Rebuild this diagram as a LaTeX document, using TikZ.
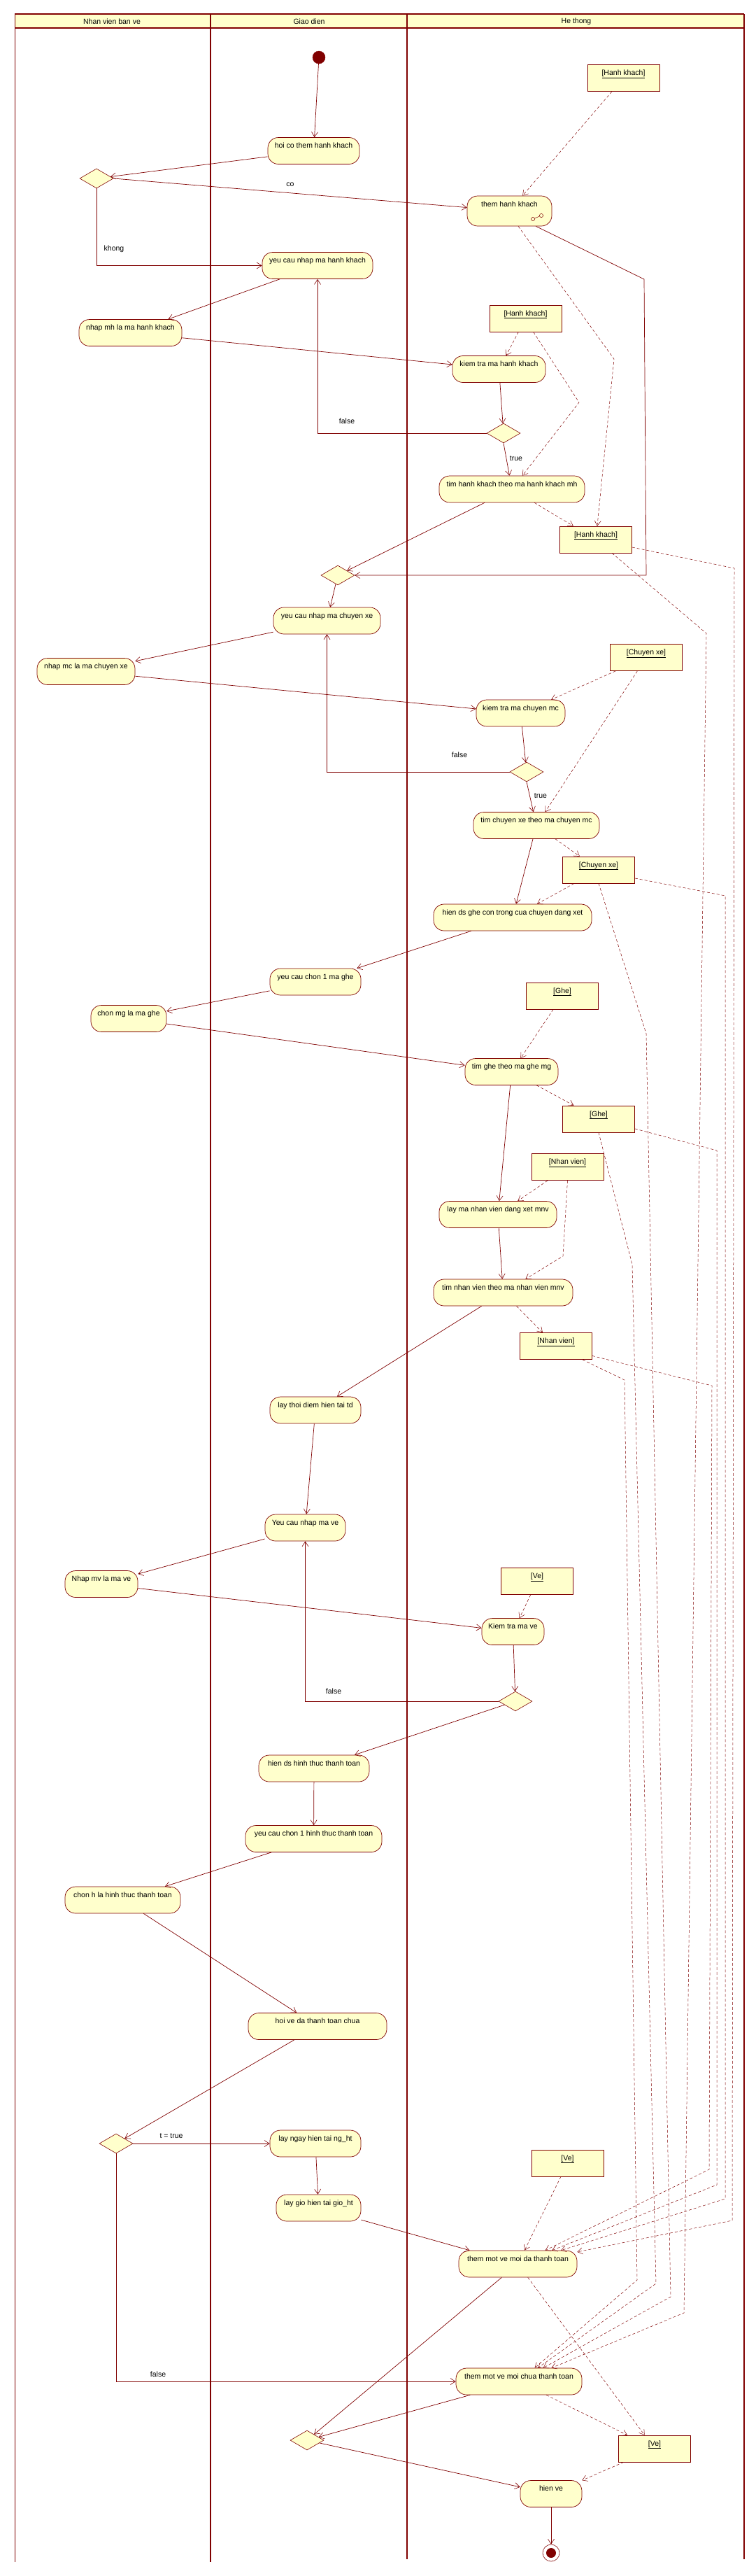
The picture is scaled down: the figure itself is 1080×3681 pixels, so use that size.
\documentclass[tikz,border=0pt]{standalone}
\usepackage{fontspec}
\setmainfont{Liberation Sans}
\usetikzlibrary{shapes.geometric,arrows.meta}
\definecolor{lc}{RGB}{128,0,0}
\definecolor{fc}{RGB}{255,255,204}
\begin{document}
\begin{tikzpicture}[x=1pt,y=-1pt,
  every node/.style={font=\fontsize{10.5}{12}\selectfont},
  act/.style={draw=lc, fill=fc, rectangle, rounded corners=15pt, minimum height=38pt, inner xsep=2pt, inner ysep=0pt, text height=15pt, text depth=23pt, line width=0.7pt},
  obj/.style={draw=lc, fill=fc, rectangle, minimum width=103pt, minimum height=38pt, inner xsep=2pt, inner ysep=0pt, text height=15pt, text depth=23pt, line width=0.7pt},
  dec/.style={draw=lc, fill=fc, diamond, minimum width=48pt, minimum height=28pt, inner sep=0pt, line width=0.6pt},
  flow/.style={draw=lc, line width=0.7pt, -{Straight Barb[length=7pt,width=9pt,line width=0.6pt]}},
  dep/.style={draw=lc, line width=0.5pt, dash pattern=on 4pt off 3pt, -{Straight Barb[length=7pt,width=9pt,line width=0.5pt]}},
  lbl/.style={text=black, inner sep=0pt},
  lane/.style={draw=lc, line width=1.6pt},
]
\useasboundingbox (0,0) rectangle (1080,3681);
\fill[white] (0,0) rectangle (1080,3681);

% swimlanes
\fill[fc] (21,20) rectangle (1064,40);
\draw[lane] (21,20) -- (1064,20);
\draw[lane] (21,40) -- (1064,40);
\draw[draw=lc, line width=0.9pt] (21,20) -- (21,3661);
\draw[lane] (301,20) -- (301,3661);
\draw[lane] (582,20) -- (582,3657);
\draw[lane] (1064,20) -- (1064,3657);
\node[lbl] (h1) at (160,31) {Nhan vien ban ve};
\node[lbl] (h2) at (442,31) {Giao dien};
\node[lbl] (h3) at (824,31) {He thong};

% start / end
\node[circle, fill=lc, draw=lc, minimum size=18pt, inner sep=0pt] (start) at (456,82) {};
\node[circle, draw=lc, fill=white, minimum size=24pt, inner sep=0pt, line width=0.6pt] (endn) at (788,3648) {};
\fill[lc] (endn.center) circle (7pt);

% activities
\node[act, minimum width=131pt] (a1) at (448.5,215.5) {hoi co them hanh khach};
\node[act, minimum width=121pt, minimum height=43pt, text depth=28pt] (a2) at (728.5,301.5) {them hanh khach};
\node[act, minimum width=158pt] (a3) at (454,379.5) {yeu cau nhap ma hanh khach};
\node[act, minimum width=147pt] (a4) at (186.5,475.5) {nhap mh la ma hanh khach};
\node[act, minimum width=133pt] (a5) at (713.5,527.5) {kiem tra ma hanh khach};
\node[act, minimum width=208pt] (a6) at (732,699) {tim hanh khach theo ma hanh khach mh};
\node[act, minimum width=153pt] (a7) at (467.5,887) {yeu cau nhap ma chuyen xe};
\node[act, minimum width=140pt] (a8) at (123,959.5) {nhap mc la ma chuyen xe};
\node[act, minimum width=127pt] (a9) at (744.5,1019) {kiem tra ma chuyen mc};
\node[act, minimum width=180pt] (a10) at (767,1179.5) {tim chuyen xe theo ma chuyen mc};
\node[act, minimum width=226pt] (a11) at (733,1311) {hien ds ghe con trong cua chuyen dang xet};
\node[act, minimum width=130pt] (a12) at (451,1403) {yeu cau chon 1 ma ghe};
\node[act, minimum width=108pt] (a13) at (184,1455.5) {chon mg la ma ghe};
\node[act, minimum width=133pt] (a14) at (731.5,1531.5) {tim ghe theo ma ghe mg};
\node[act, minimum width=168pt] (a15) at (712,1735.5) {lay ma nhan vien dang xet mnv};
\node[act, minimum width=199pt] (a16) at (719.5,1847) {tim nhan vien theo ma nhan vien mnv};
\node[act, minimum width=130pt] (a17) at (451,2015) {lay thoi diem hien tai td};
\node[act, minimum width=115pt] (a18) at (436.5,2183) {Yeu cau nhap ma ve};
\node[act, minimum width=104pt] (a19) at (145,2263.5) {Nhap mv la ma ve};
\node[act, minimum width=89pt] (a20) at (733.5,2331.5) {Kiem tra ma ve};
\node[act, minimum width=158pt] (a21) at (449,2527) {hien ds hinh thuc thanh toan};
\node[act, minimum width=195pt] (a22) at (448.5,2627.5) {yeu cau chon 1 hinh thuc thanh toan};
\node[act, minimum width=165pt] (a23) at (175.5,2715) {chon h la hinh thuc thanh toan};
\node[act, minimum width=198pt] (a24) at (454,2895.5) {hoi ve da thanh toan chua};
\node[act, minimum width=130pt] (a25) at (451,3063) {lay ngay hien tai ng\_ht};
\node[act, minimum width=121pt] (a26) at (455.5,3155) {lay gio hien tai gio\_ht};
\node[act, minimum width=169pt] (a27) at (740.5,3235) {them mot ve moi da thanh toan};
\node[act, minimum width=180pt] (a28) at (742,3403) {them mot ve moi chua thanh toan};
\node[act, minimum width=88pt] (a29) at (788,3563.5) {hien ve};

% subactivity icon
\draw[lc, line width=0.5pt] (762,313) circle (2.6pt);
\draw[lc, line width=0.5pt] (774,308) circle (2.6pt);
\draw[lc, line width=0.5pt] (764.5,312) -- (771.5,309);

% objects
\node[obj] (o1) at (891.5,111.5) {\underline{[Hanh khach]}};
\node[obj] (o2) at (751.5,455) {\underline{[Hanh khach]}};
\node[obj] (o3) at (852,771) {\underline{[Hanh khach]}};
\node[obj] (o4) at (924,939.5) {\underline{[Chuyen xe]}};
\node[obj] (o5) at (856,1243) {\underline{[Chuyen xe]}};
\node[obj] (o6) at (804,1423) {\underline{[Ghe]}};
\node[obj] (o7) at (856,1599) {\underline{[Ghe]}};
\node[obj] (o8) at (811.5,1667.5) {\underline{[Nhan vien]}};
\node[obj] (o9) at (795,1923.5) {\underline{[Nhan vien]}};
\node[obj] (o10) at (768,2259.5) {\underline{[Ve]}};
\node[obj] (o11) at (811.5,3091) {\underline{[Ve]}};
\node[obj] (o12) at (936,3499) {\underline{[Ve]}};

% decisions
\node[dec] (d1) at (138,255) {};
\node[dec] (d2) at (483,822) {};
\node[dec] (d3) at (720,619) {};
\node[dec] (d4) at (753,1103) {};
\node[dec] (d5) at (737,2431) {};
\node[dec] (d6) at (166,3063) {};
\node[dec] (d7) at (439,3487) {};

% bend coordinates
\coordinate (w1) at (828,575);
\coordinate (w2) at (878,513);
\coordinate (w3) at (921,399);
\coordinate (w4) at (924,822);
\coordinate (w5) at (805,1795);
\coordinate (hr1) at (1050,812); \coordinate (hr2) at (1047,3173);
\coordinate (hb1) at (1010,905); \coordinate (hb2) at (978,3305);
\coordinate (cr1) at (1037,1280); \coordinate (cr2) at (1037,3142);
\coordinate (cb1) at (924,1477); \coordinate (cb2) at (959,3282);
\coordinate (gr1) at (1025,1644); \coordinate (gr2) at (1025,3122);
\coordinate (gb1) at (904,1807); \coordinate (gb2) at (938,3263);
\coordinate (nr1) at (1018,1980); \coordinate (nr2) at (1014,3100);
\coordinate (nb1) at (893,1972); \coordinate (nb2) at (911,3258);

% flows
\draw[flow] (start) -- (a1);
\draw[flow] (a1) -- (d1);
\draw[flow] (d1.east) -- (a2);
\draw[dep] (o1) -- (a2);
\draw[flow] (d1.south) |- (a3.west);
\draw[flow] (a3) -- (a4);
\draw[flow] (a4) -- (a5);
\draw[dep] (o2) -- (a5);
\draw[dep] (o2.-60) -- (w1) -- (a6);
\draw[flow] (a5) -- (d3);
\draw[flow] (d3.west) -| (a3.south);
\draw[flow] (d3.south) -- (a6);
\draw[dep] (a2.-60) -- (w2) -- (o3);
\draw[flow] (a2.-30) -- (w3) -- (w4) -- (d2.east);
\draw[dep] (a6) -- (o3);
\draw[flow] (a6) -- (d2);
\draw[flow] (d2) -- (a7);
\draw[flow] (a7) -- (a8);
\draw[flow] (a8) -- (a9);
\draw[dep] (o4) -- (a9);
\draw[dep] (o4) -- (a10);
\draw[flow] (a9) -- (d4);
\draw[flow] (d4.west) -| (a7.south);
\draw[flow] (d4.south) -- (a10);
\draw[flow] (a10) -- (a11);
\draw[dep] (a10) -- (o5);
\draw[dep] (o5) -- (a11);
\draw[flow] (a11) -- (a12);
\draw[flow] (a12) -- (a13);
\draw[flow] (a13) -- (a14);
\draw[dep] (o6) -- (a14);
\draw[dep] (a14) -- (o7);
\draw[flow] (a14) -- (a15);
\draw[dep] (o8) -- (a15);
\draw[dep] (o8.south) -- (w5) -- (a16);
\draw[flow] (a15) -- (a16);
\draw[dep] (a16) -- (o9);
\draw[flow] (a16) -- (a17);
\draw[flow] (a17) -- (a18);
\draw[flow] (a18) -- (a19);
\draw[flow] (a19) -- (a20);
\draw[dep] (o10) -- (a20);
\draw[flow] (a20) -- (d5);
\draw[flow] (d5.west) -| (a18.south);
\draw[flow] (d5) -- (a21);
\draw[flow] (a21) -- (a22);
\draw[flow] (a22) -- (a23);
\draw[flow] (a23) -- (a24);
\draw[flow] (a24) -- (d6);
\draw[flow] (d6.east) -- (a25.west);
\draw[flow] (a25) -- (a26);
\draw[flow] (a26) -- (a27);
\draw[dep] (o11) -- (a27);
\draw[flow] (d6.south) |- (a28.west);
\draw[flow] (a27) -- (d7);
\draw[flow] (a28) -- (d7);
\draw[flow] (d7) -- (a29);
\draw[dep] (a27) -- (o12);
\draw[dep] (a28) -- (o12);
\draw[dep] (o12) -- (a29);
\draw[flow] (a29) -- (endn);

% long object flows
\draw[dep] (o3.-12) -- (hr1) -- (hr2) -- (a27);
\draw[dep] (o3.-40) -- (hb1) -- (hb2) -- (a28);
\draw[dep] (o5.-13) -- (cr1) -- (cr2) -- (a27);
\draw[dep] (o5.south) -- (cb1) -- (cb2) -- (a28);
\draw[dep] (o7.-15) -- (gr1) -- (gr2) -- (a27);
\draw[dep] (o7.south) -- (gb1) -- (gb2) -- (a28);
\draw[dep] (o9.-15) -- (nr1) -- (nr2) -- (a27);
\draw[dep] (o9.-27) -- (nb1) -- (nb2) -- (a28);

% guard labels
\node[lbl] (l1) at (415,264) {co};
\node[lbl] (l2) at (163,356) {khong};
\node[lbl] (l3) at (496,602) {false};
\node[lbl] (l4) at (738,655) {true};
\node[lbl] (l5) at (657,1079) {false};
\node[lbl] (l6) at (773,1137) {true};
\node[lbl] (l7) at (477,2417) {false};
\node[lbl] (l8) at (245,3052) {t = true};
\node[lbl] (l9) at (226,3393) {false};
\end{tikzpicture}
\end{document}
